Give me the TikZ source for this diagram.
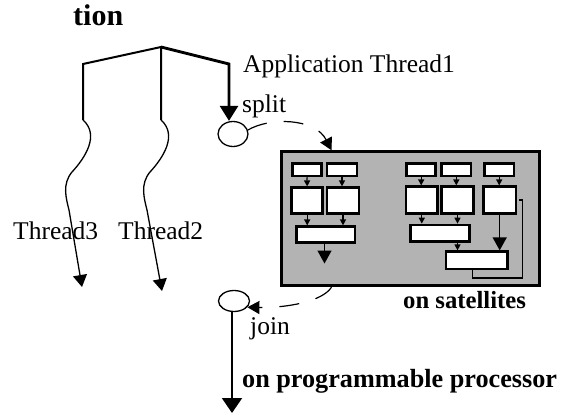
\documentclass[tikz,border=0pt]{standalone}
\usepackage{fontspec}
\setmainfont{Liberation Serif}
\usetikzlibrary{arrows.meta,shapes.geometric}
\definecolor{satgray}{RGB}{179,179,179}

\begin{document}
\begin{tikzpicture}[x=1pt,y=-1pt,
  lbl/.style={anchor=base west,inner sep=0pt,font=\fontsize{25.5}{30}\selectfont},
  blbl/.style={anchor=base west,inner sep=0pt,font=\fontsize{#1}{30}\selectfont\bfseries},
  stem/.style={line width=2pt,line join=miter},
  waveline/.style={line width=1.3pt,-{Triangle[length=12pt,width=14pt]}},
  ring/.style={ellipse,draw,line width=1.3pt,inner sep=0pt},
  satbox/.style={draw,fill=satgray,line width=3pt,inner sep=0pt},
  wbox/.style={draw,fill=white,line width=2.6pt,inner sep=0pt},
  sarrow/.style={line width=1.3pt,-{Triangle[length=6pt,width=6pt]}},
  barrow/.style={line width=1.5pt,-{Triangle[length=13pt,width=14pt]}},
  dasharrow/.style={line width=1.2pt,dash pattern=on 20pt off 17pt,-{Triangle[length=12pt,width=13pt]}},
  fbline/.style={line width=1.3pt}
]
\useasboundingbox (0,0) rectangle (570,417);

% title fragment
\node[blbl=30] (title) at (73,26) {tion};

% forking of the application thread
\coordinate (top) at (161,47);
\coordinate (lb) at (83,64);
\coordinate (lw) at (83,120);
\coordinate (mw) at (161,120);
\coordinate (rb) at (229,64);
\coordinate (lend) at (82,287);
\coordinate (mend) at (162,291);

\node[ring,minimum width=30pt,minimum height=25pt] (split) at (233,134) {};
\node[ring,minimum width=31pt,minimum height=21pt] (join) at (234,301) {};

\draw[stem] (lw) -- (lb) -- (top) -- (mw);
\draw[stem,line width=2.8pt,-{Triangle[length=15pt,width=18pt]}]
  (top) -- (rb) -- (split.north -| rb);

% wavy thread bodies
\draw[waveline] (lw) .. controls (100,135) and (85,158) .. (72,172)
  .. controls (62,184) and (66,198) .. (69,210) -- (lend);
\draw[waveline] (mw) .. controls (178,135) and (163,158) .. (150,172)
  .. controls (140,184) and (144,198) .. (147,210) -- (mend);

\node[lbl] (t3) at (13,239) {Thread3};
\node[lbl] (t2) at (118,239) {Thread2};
\node[lbl] (t1) at (243,73) {Application Thread1};
\node[lbl] (splitlbl) at (242,113) {split};
\node[lbl] (joinlbl) at (250,334.5) {join};

% satellite block
\node[satbox,minimum width=258pt,minimum height=134pt] (sat) at (410,218.7) {};

% left group
\node[wbox,minimum width=29pt,minimum height=12.5pt] (a1) at (307,169.7) {};
\node[wbox,minimum width=30pt,minimum height=12.5pt] (a2) at (342,169.7) {};
\node[wbox,minimum width=31pt,minimum height=25.6pt] (b1) at (307.2,200.5) {};
\node[wbox,minimum width=32pt,minimum height=25.6pt] (b2) at (343,200.5) {};
\node[wbox,minimum width=58.3pt,minimum height=16pt] (c1) at (325.8,234.7) {};
\coordinate (c1out) at (324.5,263.5);

\draw[sarrow] (a1.south) -- (b1.north);
\draw[sarrow] (a2.south) -- (a2.south |- b2.north);
\draw[sarrow] (b1.south) -- (b1.south |- c1.north);
\draw[sarrow] (b2.south) -- (b2.south |- c1.north);
\draw[barrow] (c1.south -| c1out) -- (c1out);

% right group
\node[wbox,minimum width=29pt,minimum height=12.5pt] (d1) at (421.2,169.7) {};
\node[wbox,minimum width=29.3pt,minimum height=12.5pt] (d2) at (456.3,169.7) {};
\node[wbox,minimum width=29.7pt,minimum height=12.5pt] (d3) at (499.2,169.7) {};
\node[wbox,minimum width=31.7pt,minimum height=26.6pt] (e1) at (421.8,200) {};
\node[wbox,minimum width=31.6pt,minimum height=26.6pt] (e2) at (457.5,200) {};
\node[wbox,minimum width=32.7pt,minimum height=26.6pt] (e3) at (499.7,200) {};
\node[wbox,minimum width=58.6pt,minimum height=16.7pt] (f1) at (440,233.3) {};
\node[wbox,minimum width=61.3pt,minimum height=17.3pt] (g1) at (476.7,260.3) {};

\draw[sarrow] (d1.south) -- (d1.south |- e1.north);
\draw[sarrow] (d2.south) -- (d2.south |- e2.north);
\draw[sarrow] (d3.south) -- (d3.south |- e3.north);
\draw[sarrow] (e1.south) -- (e1.south |- f1.north);
\draw[sarrow] (e2.south) -- (e2.south |- f1.north);
\draw[sarrow] (f1.south -| e2.south) -- (g1.north -| e2.south);
\draw[barrow] (e3.south) -- (e3.south |- g1.north);
\coordinate (fbcorner) at (522.5,278);
\draw[fbline] ([xshift=2pt]e3.east) -| (fbcorner) -| ([xshift=-4pt]g1.south);

\node[blbl=24.7] (satlbl) at (403,308) {on satellites};

% hand-off to and from the satellites
\draw[dasharrow] (split.15) .. controls (270,117) and (315,118) .. ([xshift=52pt]sat.north west);
\draw[dasharrow] ([xshift=52pt]sat.south west) .. controls (322,302) and (285,308) .. (join.-25);

% continuation on the programmable processor
\coordinate (outend) at (232,413);
\draw[line width=2pt,-{Triangle[length=15pt,width=20pt]}] (join.south -| outend) -- (outend);
\node[blbl=26.2] (proclbl) at (242,387) {on programmable processor};
\end{tikzpicture}
\end{document}
